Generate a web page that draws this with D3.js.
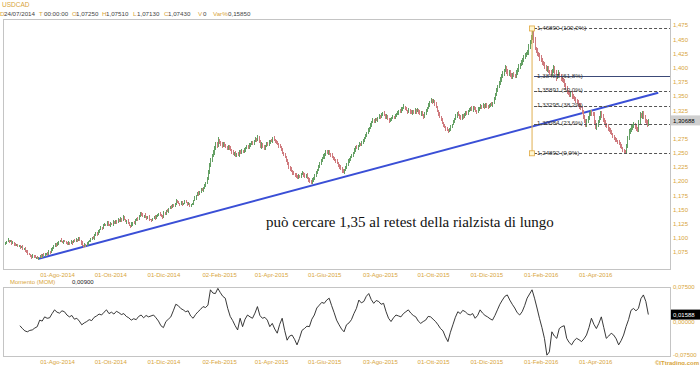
<!DOCTYPE html>
<html>
<head>
<meta charset="utf-8">
<script src="https://cdn.jsdelivr.net/npm/d3@7/dist/d3.min.js"></script>
<style>
  body { margin: 0; background: #fff; }
  svg { display: block; font-family: "Liberation Sans", Arial, sans-serif; }
</style>
</head>
<body>
<div id="chart"></div>
<script>
// trading days counted from Mon 02/06/2014, candles start at day 2
const startDate = new Date(2014, 5, 2);
const firstIdx = 2;
const firstOpen = 1089;

// daily closes, thousandths (1091 = 1,091), ten per row
const closes = [
  1091,1094,1096,1093,1095,1090,1092,1089,1087,1088, // 2
  1085,1086,1083,1084,1080,1081,1078,1075,1072,1070, // 12
  1068,1066,1069,1067,1065,1066,1064,1066,1068,1067, // 22
  1071,1069,1070,1073,1071,1076,1074,1079,1082,1085, // 32
  1088,1086,1091,1093,1096,1094,1092,1095,1093,1091, // 42
  1089,1092,1090,1093,1091,1096,1094,1097,1095,1100, // 52
  1096,1091,1087,1084,1088,1086,1090,1093,1095,1098, // 62
  1101,1099,1104,1109,1106,1111,1115,1118,1116,1121, // 72
  1124,1122,1127,1124,1121,1125,1123,1128,1126,1130, // 82
  1127,1132,1129,1134,1131,1137,1133,1128,1130,1125, // 92
  1122,1120,1124,1127,1125,1130,1134,1132,1139,1144, // 102
  1141,1138,1140,1136,1134,1137,1133,1132,1130,1134, // 112
  1137,1135,1139,1140,1143,1141,1138,1136,1145,1143, // 122
  1148,1146,1151,1155,1153,1158,1156,1160,1165,1163, // 132
  1160,1158,1162,1159,1161,1164,1162,1159,1161,1157, // 142
  1158,1160,1165,1170,1174,1179,1176,1181,1185,1183, // 152
  1188,1192,1197,1205,1215,1228,1237,1244,1250,1258, // 162
  1265,1262,1272,1268,1264,1262,1266,1263,1260,1257, // 172
  1261,1258,1255,1251,1248,1250,1245,1248,1246,1252, // 182
  1250,1254,1252,1256,1258,1261,1259,1263,1265,1268, // 192
  1266,1271,1274,1272,1278,1270,1260,1264,1261,1258, // 202
  1262,1266,1264,1269,1272,1270,1276,1273,1270,1268, // 212
  1265,1262,1260,1256,1250,1247,1243,1236,1230,1225, // 222
  1221,1218,1215,1212,1210,1208,1206,1210,1208,1212, // 232
  1214,1211,1208,1210,1205,1202,1199,1197,1201,1205, // 242
  1210,1215,1220,1226,1231,1236,1240,1243,1247,1251, // 252
  1249,1252,1248,1246,1243,1240,1237,1235,1232,1228, // 262
  1225,1222,1219,1216,1220,1224,1229,1234,1238,1242, // 272
  1245,1250,1255,1260,1258,1262,1266,1264,1268,1272, // 282
  1276,1280,1285,1290,1294,1299,1304,1308,1305,1309, // 292
  1307,1312,1315,1313,1317,1320,1316,1312,1314,1310, // 302
  1306,1308,1311,1314,1312,1316,1318,1321,1324,1322, // 312
  1327,1329,1331,1328,1325,1322,1325,1322,1320,1324, // 322
  1321,1326,1323,1325,1322,1318,1321,1316,1313,1318, // 332
  1324,1329,1334,1339,1343,1340,1342,1336,1330,1324, // 342
  1318,1313,1308,1303,1298,1295,1292,1290,1288,1291, // 352
  1296,1300,1305,1310,1315,1320,1317,1313,1310,1316, // 362
  1313,1317,1321,1319,1324,1326,1328,1325,1330,1327, // 372
  1324,1322,1326,1329,1333,1330,1334,1331,1335,1332, // 382
  1330,1333,1336,1334,1338,1345,1352,1360,1366,1372, // 392
  1379,1385,1390,1395,1399,1393,1389,1392,1387,1384, // 402
  1388,1386,1385,1391,1396,1401,1405,1409,1413,1418, // 412
  1422,1425,1427,1436,1445,1452,1460,1448,1434,1430, // 422
  1425,1421,1417,1413,1409,1405,1402,1397,1399,1393, // 432
  1390,1388,1394,1400,1392,1382,1386,1390,1385,1381, // 442
  1378,1375,1369,1363,1357,1354,1352,1355,1350,1347, // 452
  1344,1341,1338,1335,1332,1329,1322,1314,1306,1299, // 462
  1305,1312,1318,1322,1319,1317,1305,1294,1299,1305, // 472
  1312,1320,1314,1308,1303,1299,1296,1292,1289,1287, // 482
  1283,1279,1275,1272,1270,1269,1266,1262,1258,1254, // 492
  1251,1250,1262,1276,1287,1290,1294,1297,1299,1295, // 502
  1292,1290,1304,1317,1314,1320,1312,1306,1303,1300,1307 // 512
];

// wick above / below the body, thousandths, same rows as closes
const wickUp = [
  '2131213121','1212312132','2121312123','1231221312','2312131221',
  '1213212312','2131213212','1321231213','2123121321','1312132123',
  '2131231212','1213213121','2312121321','1321312132','2132123121',
  '1213213232','2323434353','4353243232','3242323132','2313232423',
  '3232423432','2323132323','3242323234','2323242313','3232423243',
  '2313232423','3232423132','2323132423','3242323132','2323142323',
  '3132323242','2323132323','3242313232','2313242323','3232323142',
  '2423132323','3132423232','2323132423','3242313232','2313243434',
  '4343534343','3434353434','4345469453','4345434343','3534343534',
  '4343534343','3434353434','4343435343','3434343534','3232423232',
  '2343434353','34353434343'
].join('');
const wickDn = [
  '1213121312','2131213121','1312121312','2121312121','1213121312',
  '2121312121','1312131212','2131213121','1213121312','2121312131',
  '1213121312','2131213121','1312131212','2121312121','1213121312',
  '2121312121','3232323424','3423232323','2323232323','3232423232',
  '2323232323','3232423232','2323232323','3242323232','2323232323',
  '3232323242','2323232323','3242323232','2323232323','3232423232',
  '2323232323','3232323242','2323232323','3242323232','2323242323',
  '3232323232','2323242323','3232323232','2323232423','3232323232',
  '3434343434','4343434343','3434343534','4353434343','3434353434',
  '4343434353','3434543434','4343434343','3434343434','2323232323',
  '2134343434','34343434343'
].join('');

// Momento (MOM), thousandths, one value every 2 trading days from day 14
const momStart = 14;
const momentum = [
  -8,-14,-19,-21,-18,-17,-13,-10,4,2,11,8,9,18,26,21,19,24,22,15,
  11,14,6,8,2,-6,-2,1,5,3,10,13,17,15,21,26,18,21,17,23,
  20,16,18,12,9,4,7,5,12,15,9,14,11,13,15,9,2,-8,-12,1,
  6,11,24,38,35,29,26,22,24,13,8,16,22,27,33,31,36,69,62,61,
  72,63,55,51,29,12,3,-8,-17,8,-10,6,15,11,8,19,33,14,8,10,
  4,-10,-3,-15,-24,-5,8,-18,-39,-30,-28,-37,-49,-35,-18,-14,-9,-10,6,15,
  30,36,42,40,47,51,35,20,4,-6,-15,-21,-6,-2,5,18,29,47,41,44,
  55,61,48,40,46,44,38,40,22,8,1,9,15,13,11,18,22,26,19,14,
  11,2,-3,1,4,12,11,6,1,-6,-14,-19,-32,-42,-22,-6,10,22,18,25,
  22,17,15,18,8,14,26,19,14,11,7,4,14,26,38,47,55,58,47,38,
  30,20,15,22,35,51,60,69,51,30,8,-12,-35,-71,-64,-21,-30,-35,-14,-10,
  -8,-35,-44,-49,-40,-35,-38,-42,-36,-28,-12,8,-5,-14,-3,11,-12,-35,-30,-24,
  -28,-36,-49,-40,-28,-10,5,25,29,24,29,50,58,44,16
];

// 1,300 sits under the last price box, as in the original
const priceTicks = [1.075, 1.1, 1.125, 1.15, 1.175, 1.2, 1.225, 1.25, 1.275,
  1.325, 1.35, 1.375, 1.4, 1.425, 1.45, 1.475];
const momTicks = [-0.075, 0, 0.075];

const tickDates = ['2014-08-01', '2014-10-01', '2014-12-01', '2015-02-02', '2015-04-01', '2015-06-01',
  '2015-08-03', '2015-10-01', '2015-12-01', '2016-02-01', '2016-04-01'];
const tickLabels = ['01-Ago-2014', '01-Ott-2014', '01-Dic-2014', '02-Feb-2015', '01-Apr-2015', '01-Giu-2015',
  '03-Ago-2015', '01-Ott-2015', '01-Dic-2015', '01-Feb-2016', '01-Apr-2016'];

// Fibonacci retracement, day 428 (20/01/2016) high to day 503 low
const fibHighIdx = 428;
const fibLevels = [1.46890, 1.38487, 1.35891, 1.33295, 1.30084, 1.24892];
const fibPct = ['100,0%', '61,8%', '50,0%', '38,2%', '23,6%', '0,0%'];

// long term trend line [day, price]
const trendLine = [[29, 1.0630], [530, 1.3555]];

const lastPrice = 1.30688;
const lastMom = 0.01588;

const headerFields = [['D', '24/07/2014'], ['T', '00:00:00'], ['O', '1,07250'], ['H', '1,07510'],
  ['L', '1,07130'], ['C', '1,07430'], ['V', '0'], ['Var%', '0,15850']];
const headerX = [0, 39, 72, 102, 133, 164, 198, 213];
const headerValX = [4, 44, 76, 106, 137, 168, 203, 228];

const note = 'può cercare 1,35 al retest della rialzista di lungo';

const W = 700, H = 365;
const gold = '#d8a53a';
const upCol = '#64a064', dnCol = '#cf7a7e';

const it = d3.formatLocale({ decimal: ',', thousands: '.', grouping: [3], currency: ['', ' €'], minus: '-' });
const f3 = it.format('.3f'), f5 = it.format('.5f');

// trading day calendar
const days = [];
for (let d = new Date(startDate); days.length < 560; d = d3.timeDay.offset(d, 1)) {
  if (d.getDay() !== 0 && d.getDay() !== 6) days.push(new Date(d));
}
const parse = d3.timeParse('%Y-%m-%d');
const tickIdx = tickDates.map(s => days.findIndex(d => +d === +parse(s)));

const candles = closes.map((c, i) => {
  const o = i === 0 ? firstOpen : closes[i - 1];
  return {
    idx: firstIdx + i,
    o: o / 1000, c: c / 1000,
    h: (Math.max(o, c) + +wickUp[i]) / 1000,
    l: (Math.min(o, c) - +wickDn[i]) / 1000
  };
});
const mom = momentum.map((v, i) => ({ idx: momStart + 2 * i, v: v / 1000 }));

const svg = d3.select('#chart').append('svg').attr('width', W).attr('height', H);

const x = d3.scaleLinear().domain([0, 540]).range([2.6, 670.6]);
const y = d3.scaleLinear().domain([1.075, 1.475]).range([252, 25]);
const ym = d3.scaleLinear().domain([-0.075, 0.075]).range([357, 287]);

// header
svg.append('text').attr('x', 2).attr('y', 7).attr('font-size', 6.5).attr('fill', gold).text('USDCAD');
const hdr = svg.append('g').attr('font-size', 6.2);
headerFields.forEach(([k, v], i) => {
  hdr.append('text').attr('x', headerX[i]).attr('y', 16).attr('fill', gold).text(k);
  hdr.append('text').attr('x', headerValX[i]).attr('y', 16).attr('fill', '#444').text(v);
});

// frames
svg.append('rect').attr('x', 3.5).attr('y', 19.5).attr('width', 667).attr('height', 250)
  .attr('fill', 'none').attr('stroke', '#c4c4c4');
svg.append('rect').attr('x', 3.5).attr('y', 287.5).attr('width', 667).attr('height', 69)
  .attr('fill', 'none').attr('stroke', '#c4c4c4');

// trend line
svg.append('line')
  .attr('x1', x(trendLine[0][0])).attr('y1', y(trendLine[0][1]))
  .attr('x2', x(trendLine[1][0])).attr('y2', y(trendLine[1][1]))
  .attr('stroke', '#3a4fd6').attr('stroke-width', 2);

// candles
const cg = svg.append('g').attr('shape-rendering', 'crispEdges');
cg.selectAll('line').data(candles).join('line')
  .attr('x1', d => Math.round(x(d.idx)) + 0.5).attr('x2', d => Math.round(x(d.idx)) + 0.5)
  .attr('y1', d => y(d.h)).attr('y2', d => y(d.l))
  .attr('stroke', d => d.c >= d.o ? upCol : dnCol).attr('stroke-width', 1);

// fibonacci
const fx0 = x(fibHighIdx);
const fg = svg.append('g');
fibLevels.forEach((lv, i) => {
  fg.append('line').attr('x1', fx0 + 2).attr('x2', 670).attr('y1', Math.round(y(lv)) + 0.5).attr('y2', Math.round(y(lv)) + 0.5)
    .attr('stroke', i === 1 ? '#3c4a78' : '#555')
    .attr('stroke-dasharray', i === 1 ? null : '3,2').attr('stroke-width', 1);
  fg.append('text').attr('x', fx0 + 5).attr('y', y(lv) + 1.5).attr('font-size', 6.2).attr('fill', '#333')
    .text(f5(lv) + ' (' + fibPct[i] + ')');
});
fg.append('line').attr('x1', fx0).attr('x2', fx0).attr('y1', y(fibLevels[0])).attr('y2', y(fibLevels[5]))
  .attr('stroke', '#e0b050').attr('stroke-width', 1);
[fibLevels[0], fibLevels[5]].forEach(lv => {
  fg.append('rect').attr('x', fx0 - 2.5).attr('y', y(lv) - 2.5).attr('width', 5).attr('height', 5)
    .attr('fill', '#fff6d0').attr('stroke', '#e0a840').attr('stroke-width', 0.8);
});

// note
svg.append('text').attr('x', 266).attr('y', 227)
  .attr('font-family', '"Liberation Serif", "Times New Roman", serif').attr('font-size', 15).attr('fill', '#111')
  .text(note);

// price axis
const ay = svg.append('g').attr('transform', 'translate(670,0)')
  .call(d3.axisRight(y).tickValues(priceTicks).tickFormat(f3).tickSize(0).tickPadding(3));
ay.select('.domain').remove();
ay.selectAll('text').attr('fill', gold).attr('font-size', 6).attr('font-family', null);

// date axes
[270, 357].forEach(py => {
  const ax = svg.append('g').attr('transform', `translate(0,${py})`)
    .call(d3.axisBottom(x).tickValues(tickIdx).tickFormat((d, i) => tickLabels[i]).tickSize(0).tickPadding(3));
  ax.select('.domain').remove();
  ax.selectAll('text').attr('fill', gold).attr('font-size', 6).attr('font-family', null);
});

// last price box
svg.append('rect').attr('x', 671).attr('y', y(lastPrice) - 5).attr('width', 29).attr('height', 10).attr('fill', '#cfcfcf');
svg.append('text').attr('x', 673).attr('y', y(lastPrice) + 2.2).attr('font-size', 6).attr('fill', '#000').text(f5(lastPrice));

// momentum panel
svg.append('text').attr('x', 10).attr('y', 284).attr('font-size', 6).attr('fill', gold).text('Momento (MOM)');
svg.append('text').attr('x', 72).attr('y', 284).attr('font-size', 6).attr('fill', '#222').text('0,00900');

svg.append('path').datum(mom)
  .attr('d', d3.line().x(d => x(d.idx)).y(d => ym(d.v)))
  .attr('fill', 'none').attr('stroke', '#222').attr('stroke-width', 0.9);

const am = svg.append('g').attr('transform', 'translate(670,0)')
  .call(d3.axisRight(ym).tickValues(momTicks).tickFormat(f5).tickSize(0).tickPadding(3));
am.select('.domain').remove();
am.selectAll('text').attr('fill', gold).attr('font-size', 6).attr('font-family', null);
am.selectAll('.tick').filter(d => d < 0).select('text').attr('dy', '-0.1em');

svg.append('rect').attr('x', 671).attr('y', ym(lastMom) - 5).attr('width', 29).attr('height', 10).attr('fill', '#000');
svg.append('text').attr('x', 673).attr('y', ym(lastMom) + 2.2).attr('font-size', 6).attr('fill', '#fff').text(f5(lastMom));

svg.append('text').attr('x', 699).attr('y', 364.5).attr('text-anchor', 'end').attr('font-size', 6)
  .attr('font-weight', 'bold').attr('fill', gold).text('©ITtrading.com');
</script>
</body>
</html>
